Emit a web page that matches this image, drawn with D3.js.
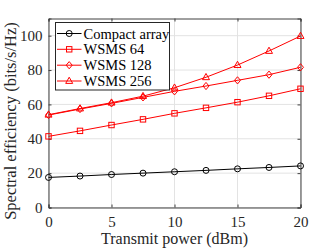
<!DOCTYPE html>
<html><head><meta charset="utf-8">
<script src="https://cdn.jsdelivr.net/npm/d3@7"></script>
<style>body{margin:0;background:#fff}svg{display:block}</style>
</head><body><svg id="c" width="332" height="249"></svg>
<script>
const power = [0, 2.5, 5, 7.5, 10, 12.5, 15, 17.5, 20];
const compact = [17.5, 18.3, 19.2, 20.0, 20.8, 21.6, 22.5, 23.3, 24.2];
const wsms64 = [41.4, 44.6, 48.0, 51.3, 54.8, 58.0, 61.3, 65.0, 69.1];
const wsms128 = [53.8, 57.3, 60.6, 64.1, 67.6, 70.7, 74.0, 77.3, 81.6];
const wsms256 = [54.0, 57.6, 61.0, 64.8, 69.7, 75.8, 82.9, 91.1, 99.8];
const seriesNames = ["Compact array", "WSMS 64", "WSMS 128", "WSMS 256"];
const xTicks = [0, 5, 10, 15, 20];
const yTicks = [0, 20, 40, 60, 80, 100];

const FONT = "'Liberation Serif', 'Times New Roman', Times, serif";
const series = [
  {name: seriesNames[0], vals: compact, color: "#000", marker: "circle"},
  {name: seriesNames[1], vals: wsms64, color: "#ff0000", marker: "square"},
  {name: seriesNames[2], vals: wsms128, color: "#ff0000", marker: "diamond"},
  {name: seriesNames[3], vals: wsms256, color: "#ff0000", marker: "triangle"}
];

const svg = d3.select("#c");
const L = 48.5, R = 300.5, T = 18.5, B = 207.5;
const x = d3.scaleLinear().domain([0, 20]).range([L, R]);
const y = d3.scaleLinear().domain([0, 110]).range([B, T]);
const axisCol = "#404040";

// grid
svg.append("g").selectAll("line").data(xTicks).join("line")
  .attr("x1", d => x(d)).attr("x2", d => x(d)).attr("y1", T).attr("y2", B)
  .attr("stroke", "#e3e3e3").attr("stroke-width", 1);
svg.append("g").selectAll("line").data(yTicks).join("line")
  .attr("y1", d => y(d)).attr("y2", d => y(d)).attr("x1", L).attr("x2", R)
  .attr("stroke", "#e3e3e3").attr("stroke-width", 1);

// axes
const xa = svg.append("g").attr("transform", `translate(0,${B})`)
  .call(d3.axisBottom(x).tickValues(xTicks).tickSize(-3).tickPadding(9));
const xa2 = svg.append("g").attr("transform", `translate(0,${T})`)
  .call(d3.axisTop(x).tickValues(xTicks).tickSize(-3).tickFormat(""));
const ya = svg.append("g").attr("transform", `translate(${L},0)`)
  .call(d3.axisLeft(y).tickValues(yTicks).tickSize(-3).tickPadding(6));
const ya2 = svg.append("g").attr("transform", `translate(${R},0)`)
  .call(d3.axisRight(y).tickValues(yTicks).tickSize(-3).tickFormat(""));
[xa, xa2, ya, ya2].forEach(g => {
  g.attr("font-family", FONT).attr("font-size", 15);
  g.select(".domain").attr("stroke", axisCol);
  g.selectAll(".tick line").attr("stroke", axisCol);
  g.selectAll("text").attr("fill", "#262626");
});

// lines and markers
const line = d3.line().x((d, i) => x(power[i])).y(d => y(d));
function marker(g, type, cx, cy, color) {
  if (type === "circle") {
    g.append("circle").attr("cx", cx).attr("cy", cy).attr("r", 3)
      .attr("fill", "none").attr("stroke", color).attr("stroke-width", 1);
  } else if (type === "square") {
    g.append("rect").attr("x", cx - 2.7).attr("y", cy - 2.7).attr("width", 5.4).attr("height", 5.4)
      .attr("fill", "none").attr("stroke", color).attr("stroke-width", 1);
  } else if (type === "diamond") {
    g.append("path").attr("d", `M${cx},${cy-3.6}L${cx+3},${cy}L${cx},${cy+3.6}L${cx-3},${cy}Z`)
      .attr("fill", "none").attr("stroke", color).attr("stroke-width", 1);
  } else {
    g.append("path").attr("d", `M${cx},${cy-3.8}L${cx+3.5},${cy+2.4}L${cx-3.5},${cy+2.4}Z`)
      .attr("fill", "none").attr("stroke", color).attr("stroke-width", 1);
  }
}
series.forEach(s => {
  const g = svg.append("g");
  g.append("path").datum(s.vals).attr("d", line).attr("fill", "none")
    .attr("stroke", s.color).attr("stroke-width", 1);
  s.vals.forEach((v, i) => marker(g, s.marker, x(power[i]), y(v), s.color));
});

// axis labels
svg.append("text").attr("x", (L + R) / 2).attr("y", 244).attr("text-anchor", "middle")
  .attr("font-family", FONT).attr("font-size", 16).attr("fill", "#262626").text("Transmit power (dBm)");
svg.append("text").attr("transform", `translate(16,121) rotate(-90)`)
  .attr("text-anchor", "middle").attr("font-family", FONT).attr("font-size", 16.5).attr("fill", "#262626")
  .text("Spectral efficiency (bits/s/Hz)");

// legend
const lg = svg.append("g");
lg.append("rect").attr("x", 55.5).attr("y", 22.5).attr("width", 114).attr("height", 67.5)
  .attr("fill", "#fff").attr("stroke", "#262626").attr("stroke-width", 1);
const ly = [33.5, 49.3, 65.2, 81];
series.forEach((s, i) => {
  lg.append("line").attr("x1", 57).attr("x2", 81.5).attr("y1", ly[i]).attr("y2", ly[i])
    .attr("stroke", s.color).attr("stroke-width", 1);
  marker(lg, s.marker, 69.2, ly[i], s.color);
  lg.append("text").attr("x", 83.5).attr("y", ly[i] + 5).attr("font-family", FONT).attr("font-size", 14.5)
    .attr("fill", "#000").text(s.name);
});
</script></body></html>
